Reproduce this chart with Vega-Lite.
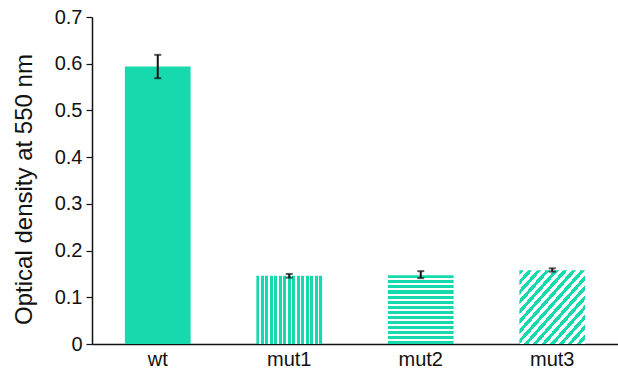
{
  "$schema": "https://vega.github.io/schema/vega-lite/v6.json",
  "width": 526,
  "height": 327,
  "autosize": {"type": "none"},
  "padding": {"left": 92, "top": 17, "right": 0, "bottom": 28},
  "background": "white",
  "config": {
    "view": {"stroke": null},
    "font": "Liberation Sans",
    "axis": {"labelFont": "Liberation Sans", "titleFont": "Liberation Sans", "labelColor": "#111", "titleColor": "#111", "domainColor": "#111", "tickColor": "#111", "grid": false}
  },
  "data": {
    "values": [
      {"g": "wt", "v": 0.594, "lo": 0.569, "hi": 0.619},
      {"g": "mut1", "v": 0.146, "lo": 0.142, "hi": 0.150},
      {"g": "mut2", "v": 0.147, "lo": 0.141, "hi": 0.156},
      {"g": "mut3", "v": 0.158, "lo": 0.155, "hi": 0.162}
    ]
  },
  "encoding": {
    "x": {
      "field": "g", "type": "nominal", "sort": null,
      "scale": {"domain": ["wt", "mut1", "mut2", "mut3"], "paddingInner": 0.5, "paddingOuter": 0.25},
      "axis": {"title": null, "labelAngle": 0, "labelFontSize": 20, "labelPadding": 5, "ticks": false, "domainWidth": 1.5}
    }
  },
  "layer": [
    {
      "transform": [{"filter": "datum.g == 'wt'"}],
      "mark": {"type": "bar", "color": "#16d9ae"},
      "encoding": {
        "y": {
          "field": "v", "type": "quantitative",
          "scale": {"domain": [0, 0.7], "nice": false},
          "axis": {
            "title": "Optical density at 550 nm", "titleFontSize": 24, "titleFontWeight": "normal", "titlePadding": 18, "titleY": 172,
            "values": [0, 0.1, 0.2, 0.3, 0.4, 0.5, 0.6, 0.7],
            "labelExpr": "datum.value == 0 ? '0' : format(datum.value, '.1f')",
            "labelFontSize": 20, "tickSize": 6, "labelPadding": 4, "domainWidth": 1.5, "tickWidth": 1.2
          }
        }
      }
    },
    {
      "transform": [{"filter": "datum.g == 'mut1'"}],
      "mark": {"type": "bar", "color": {
        "gradient": "linear", "x1": 0, "y1": 0, "x2": 1, "y2": 0,
        "stops": [
          {"offset": 0, "color": "#16d9ae"}, {"offset": 0.0411, "color": "#16d9ae"}, {"offset": 0.0411, "color": "#ffffff"}, {"offset": 0.0685, "color": "#ffffff"},
          {"offset": 0.0685, "color": "#16d9ae"}, {"offset": 0.1096, "color": "#16d9ae"}, {"offset": 0.1096, "color": "#ffffff"}, {"offset": 0.1370, "color": "#ffffff"},
          {"offset": 0.1370, "color": "#16d9ae"}, {"offset": 0.1781, "color": "#16d9ae"}, {"offset": 0.1781, "color": "#ffffff"}, {"offset": 0.2055, "color": "#ffffff"},
          {"offset": 0.2055, "color": "#16d9ae"}, {"offset": 0.2466, "color": "#16d9ae"}, {"offset": 0.2466, "color": "#ffffff"}, {"offset": 0.2740, "color": "#ffffff"},
          {"offset": 0.2740, "color": "#16d9ae"}, {"offset": 0.3151, "color": "#16d9ae"}, {"offset": 0.3151, "color": "#ffffff"}, {"offset": 0.3425, "color": "#ffffff"},
          {"offset": 0.3425, "color": "#16d9ae"}, {"offset": 0.3836, "color": "#16d9ae"}, {"offset": 0.3836, "color": "#ffffff"}, {"offset": 0.4110, "color": "#ffffff"},
          {"offset": 0.4110, "color": "#16d9ae"}, {"offset": 0.4521, "color": "#16d9ae"}, {"offset": 0.4521, "color": "#ffffff"}, {"offset": 0.4795, "color": "#ffffff"},
          {"offset": 0.4795, "color": "#16d9ae"}, {"offset": 0.5205, "color": "#16d9ae"}, {"offset": 0.5205, "color": "#ffffff"}, {"offset": 0.5479, "color": "#ffffff"},
          {"offset": 0.5479, "color": "#16d9ae"}, {"offset": 0.5890, "color": "#16d9ae"}, {"offset": 0.5890, "color": "#ffffff"}, {"offset": 0.6164, "color": "#ffffff"},
          {"offset": 0.6164, "color": "#16d9ae"}, {"offset": 0.6575, "color": "#16d9ae"}, {"offset": 0.6575, "color": "#ffffff"}, {"offset": 0.6849, "color": "#ffffff"},
          {"offset": 0.6849, "color": "#16d9ae"}, {"offset": 0.7260, "color": "#16d9ae"}, {"offset": 0.7260, "color": "#ffffff"}, {"offset": 0.7534, "color": "#ffffff"},
          {"offset": 0.7534, "color": "#16d9ae"}, {"offset": 0.7945, "color": "#16d9ae"}, {"offset": 0.7945, "color": "#ffffff"}, {"offset": 0.8219, "color": "#ffffff"},
          {"offset": 0.8219, "color": "#16d9ae"}, {"offset": 0.8630, "color": "#16d9ae"}, {"offset": 0.8630, "color": "#ffffff"}, {"offset": 0.8904, "color": "#ffffff"},
          {"offset": 0.8904, "color": "#16d9ae"}, {"offset": 0.9315, "color": "#16d9ae"}, {"offset": 0.9315, "color": "#ffffff"}, {"offset": 0.9589, "color": "#ffffff"},
          {"offset": 0.9589, "color": "#16d9ae"}, {"offset": 1, "color": "#16d9ae"}
        ]
      }},
      "encoding": {"y": {"field": "v", "type": "quantitative"}}
    },
    {
      "transform": [{"filter": "datum.g == 'mut2'"}],
      "mark": {"type": "bar", "color": {
        "gradient": "linear", "x1": 0, "y1": 0, "x2": 0, "y2": 1,
        "stops": [
          {"offset": 0, "color": "#16d9ae"}, {"offset": 0.0441, "color": "#16d9ae"}, {"offset": 0.0441, "color": "#ffffff"}, {"offset": 0.0735, "color": "#ffffff"},
          {"offset": 0.0735, "color": "#16d9ae"}, {"offset": 0.1176, "color": "#16d9ae"}, {"offset": 0.1176, "color": "#ffffff"}, {"offset": 0.1471, "color": "#ffffff"},
          {"offset": 0.1471, "color": "#16d9ae"}, {"offset": 0.1912, "color": "#16d9ae"}, {"offset": 0.1912, "color": "#ffffff"}, {"offset": 0.2206, "color": "#ffffff"},
          {"offset": 0.2206, "color": "#16d9ae"}, {"offset": 0.2647, "color": "#16d9ae"}, {"offset": 0.2647, "color": "#ffffff"}, {"offset": 0.2941, "color": "#ffffff"},
          {"offset": 0.2941, "color": "#16d9ae"}, {"offset": 0.3382, "color": "#16d9ae"}, {"offset": 0.3382, "color": "#ffffff"}, {"offset": 0.3676, "color": "#ffffff"},
          {"offset": 0.3676, "color": "#16d9ae"}, {"offset": 0.4118, "color": "#16d9ae"}, {"offset": 0.4118, "color": "#ffffff"}, {"offset": 0.4412, "color": "#ffffff"},
          {"offset": 0.4412, "color": "#16d9ae"}, {"offset": 0.4853, "color": "#16d9ae"}, {"offset": 0.4853, "color": "#ffffff"}, {"offset": 0.5147, "color": "#ffffff"},
          {"offset": 0.5147, "color": "#16d9ae"}, {"offset": 0.5588, "color": "#16d9ae"}, {"offset": 0.5588, "color": "#ffffff"}, {"offset": 0.5882, "color": "#ffffff"},
          {"offset": 0.5882, "color": "#16d9ae"}, {"offset": 0.6324, "color": "#16d9ae"}, {"offset": 0.6324, "color": "#ffffff"}, {"offset": 0.6618, "color": "#ffffff"},
          {"offset": 0.6618, "color": "#16d9ae"}, {"offset": 0.7059, "color": "#16d9ae"}, {"offset": 0.7059, "color": "#ffffff"}, {"offset": 0.7353, "color": "#ffffff"},
          {"offset": 0.7353, "color": "#16d9ae"}, {"offset": 0.7794, "color": "#16d9ae"}, {"offset": 0.7794, "color": "#ffffff"}, {"offset": 0.8088, "color": "#ffffff"},
          {"offset": 0.8088, "color": "#16d9ae"}, {"offset": 0.8529, "color": "#16d9ae"}, {"offset": 0.8529, "color": "#ffffff"}, {"offset": 0.8824, "color": "#ffffff"},
          {"offset": 0.8824, "color": "#16d9ae"}, {"offset": 0.9265, "color": "#16d9ae"}, {"offset": 0.9265, "color": "#ffffff"}, {"offset": 0.9559, "color": "#ffffff"},
          {"offset": 0.9559, "color": "#16d9ae"}, {"offset": 1, "color": "#16d9ae"}
        ]
      }},
      "encoding": {"y": {"field": "v", "type": "quantitative"}}
    },
    {
      "transform": [{"filter": "datum.g == 'mut3'"}],
      "mark": {"type": "bar", "color": {
        "gradient": "linear", "x1": 0, "y1": 0, "x2": 1, "y2": 1,
        "stops": [
          {"offset": 0, "color": "#16d9ae"}, {"offset": 0.0333, "color": "#16d9ae"}, {"offset": 0.0333, "color": "#ffffff"}, {"offset": 0.0667, "color": "#ffffff"},
          {"offset": 0.0667, "color": "#16d9ae"}, {"offset": 0.1000, "color": "#16d9ae"}, {"offset": 0.1000, "color": "#ffffff"}, {"offset": 0.1333, "color": "#ffffff"},
          {"offset": 0.1333, "color": "#16d9ae"}, {"offset": 0.1667, "color": "#16d9ae"}, {"offset": 0.1667, "color": "#ffffff"}, {"offset": 0.2000, "color": "#ffffff"},
          {"offset": 0.2000, "color": "#16d9ae"}, {"offset": 0.2333, "color": "#16d9ae"}, {"offset": 0.2333, "color": "#ffffff"}, {"offset": 0.2667, "color": "#ffffff"},
          {"offset": 0.2667, "color": "#16d9ae"}, {"offset": 0.3000, "color": "#16d9ae"}, {"offset": 0.3000, "color": "#ffffff"}, {"offset": 0.3333, "color": "#ffffff"},
          {"offset": 0.3333, "color": "#16d9ae"}, {"offset": 0.3667, "color": "#16d9ae"}, {"offset": 0.3667, "color": "#ffffff"}, {"offset": 0.4000, "color": "#ffffff"},
          {"offset": 0.4000, "color": "#16d9ae"}, {"offset": 0.4333, "color": "#16d9ae"}, {"offset": 0.4333, "color": "#ffffff"}, {"offset": 0.4667, "color": "#ffffff"},
          {"offset": 0.4667, "color": "#16d9ae"}, {"offset": 0.5000, "color": "#16d9ae"}, {"offset": 0.5000, "color": "#ffffff"}, {"offset": 0.5333, "color": "#ffffff"},
          {"offset": 0.5333, "color": "#16d9ae"}, {"offset": 0.5667, "color": "#16d9ae"}, {"offset": 0.5667, "color": "#ffffff"}, {"offset": 0.6000, "color": "#ffffff"},
          {"offset": 0.6000, "color": "#16d9ae"}, {"offset": 0.6333, "color": "#16d9ae"}, {"offset": 0.6333, "color": "#ffffff"}, {"offset": 0.6667, "color": "#ffffff"},
          {"offset": 0.6667, "color": "#16d9ae"}, {"offset": 0.7000, "color": "#16d9ae"}, {"offset": 0.7000, "color": "#ffffff"}, {"offset": 0.7333, "color": "#ffffff"},
          {"offset": 0.7333, "color": "#16d9ae"}, {"offset": 0.7667, "color": "#16d9ae"}, {"offset": 0.7667, "color": "#ffffff"}, {"offset": 0.8000, "color": "#ffffff"},
          {"offset": 0.8000, "color": "#16d9ae"}, {"offset": 0.8333, "color": "#16d9ae"}, {"offset": 0.8333, "color": "#ffffff"}, {"offset": 0.8667, "color": "#ffffff"},
          {"offset": 0.8667, "color": "#16d9ae"}, {"offset": 0.9000, "color": "#16d9ae"}, {"offset": 0.9000, "color": "#ffffff"}, {"offset": 0.9333, "color": "#ffffff"},
          {"offset": 0.9333, "color": "#16d9ae"}, {"offset": 0.9667, "color": "#16d9ae"}, {"offset": 0.9667, "color": "#ffffff"}, {"offset": 1, "color": "#ffffff"}
        ]
      }},
      "encoding": {"y": {"field": "v", "type": "quantitative"}}
    },
    {
      "mark": {"type": "rule", "color": "#111", "strokeWidth": 2},
      "encoding": {"y": {"field": "lo", "type": "quantitative"}, "y2": {"field": "hi"}}
    },
    {
      "mark": {"type": "tick", "color": "#111", "thickness": 2, "size": 7, "orient": "horizontal"},
      "encoding": {"y": {"field": "lo", "type": "quantitative"}}
    },
    {
      "mark": {"type": "tick", "color": "#111", "thickness": 2, "size": 7, "orient": "horizontal"},
      "encoding": {"y": {"field": "hi", "type": "quantitative"}}
    }
  ]
}
